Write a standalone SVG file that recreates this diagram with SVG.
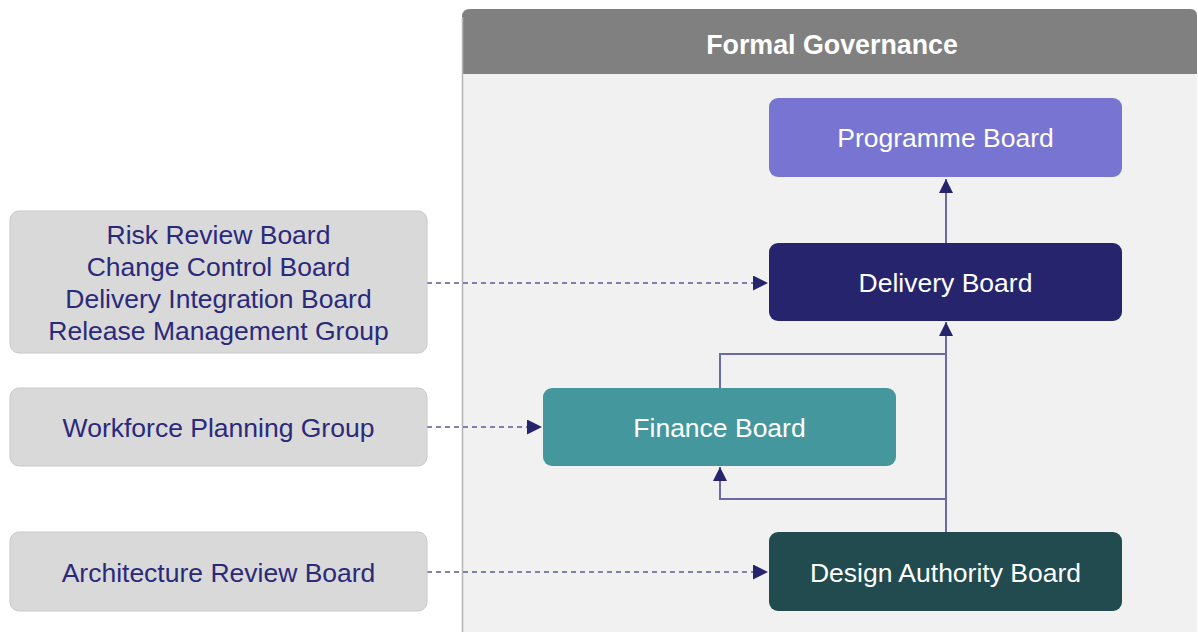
<svg xmlns="http://www.w3.org/2000/svg" width="1198" height="632" viewBox="0 0 1198 632">
<style>
.side{fill:#d9d9d9;stroke:#c8c8c8;stroke-width:1}
.st{font-family:"Liberation Sans",Arial,sans-serif;font-size:26.5px;fill:#2b2a7a;text-anchor:middle}
.bt{font-family:"Liberation Sans",Arial,sans-serif;font-size:26.5px;fill:#ffffff;text-anchor:middle}
.ln{fill:none;stroke:#6b6aa8;stroke-width:2}
.dl{fill:none;stroke:#5a5996;stroke-width:1.5;stroke-dasharray:5 4}
</style>
<defs>
<marker id="ah" viewBox="0 0 10 10" refX="10" refY="5" markerWidth="7" markerHeight="7" markerUnits="strokeWidth" orient="auto">
<path d="M0,0 L10,5 L0,10 z" fill="#27246e"/>
</marker>
<marker id="ahd" viewBox="0 0 10 10" refX="10" refY="5" markerWidth="10" markerHeight="10" markerUnits="strokeWidth" orient="auto">
<path d="M0,0 L10,5 L0,10 z" fill="#27246e"/>
</marker>
</defs>
<rect width="1198" height="632" fill="#ffffff"/>
<g id="container">
<path d="M462,632 V17 Q462,9 470,9 H1190 Q1197,9 1197,16 V632 Z" fill="#f1f1f1"/>
<path d="M462,74 V17 Q462,9 470,9 H1190 Q1197,9 1197,16 V74 Z" fill="#808080"/>
<line x1="462.5" y1="17" x2="462.5" y2="632" stroke="#b5b5b5" stroke-width="1.5"/>
<text x="832" y="54" font-family="Liberation Sans,Arial,sans-serif" font-size="26.8" font-weight="bold" fill="#ffffff" text-anchor="middle">Formal Governance</text>
</g>
<g id="connectors">
<line class="ln" x1="946" y1="243" x2="946" y2="179" marker-end="url(#ah)"/>
<line class="ln" x1="946" y1="532" x2="946" y2="322" marker-end="url(#ah)"/>
<polyline class="ln" points="720,388 720,354 946,354"/>
<polyline class="ln" points="946,499 720,499 720,467" marker-end="url(#ah)"/>
<line class="dl" x1="427" y1="283" x2="768" y2="283" marker-end="url(#ahd)"/>
<line class="dl" x1="427" y1="427" x2="542" y2="427" marker-end="url(#ahd)"/>
<line class="dl" x1="427" y1="572" x2="768" y2="572" marker-end="url(#ahd)"/>
</g>
<g id="programme-board">
<rect x="769" y="98" width="353" height="79" rx="9" fill="#7874d2"/>
<text class="bt" x="945.5" y="147">Programme Board</text>
</g>
<g id="delivery-board">
<rect x="769" y="243" width="353" height="78" rx="9" fill="#27246e"/>
<text class="bt" x="945.5" y="292">Delivery Board</text>
</g>
<g id="finance-board">
<rect x="543" y="388" width="353" height="78" rx="9" fill="#45979e"/>
<text class="bt" x="719.5" y="437">Finance Board</text>
</g>
<g id="design-authority-board">
<rect x="769" y="532" width="353" height="79" rx="9" fill="#224b4f"/>
<text class="bt" x="945.5" y="582">Design Authority Board</text>
</g>
<g id="sub-boards">
<rect class="side" x="10" y="211" width="417" height="142" rx="9"/>
<text class="st" x="218.5" y="244">Risk Review Board</text>
<text class="st" x="218.5" y="276">Change Control Board</text>
<text class="st" x="218.5" y="308">Delivery Integration Board</text>
<text class="st" x="218.5" y="340">Release Management Group</text>
</g>
<g id="workforce-planning-group">
<rect class="side" x="10" y="388" width="417" height="78" rx="9"/>
<text class="st" x="218.5" y="437">Workforce Planning Group</text>
</g>
<g id="architecture-review-board">
<rect class="side" x="10" y="532" width="417" height="79" rx="9"/>
<text class="st" x="218.5" y="582">Architecture Review Board</text>
</g>
</svg>
